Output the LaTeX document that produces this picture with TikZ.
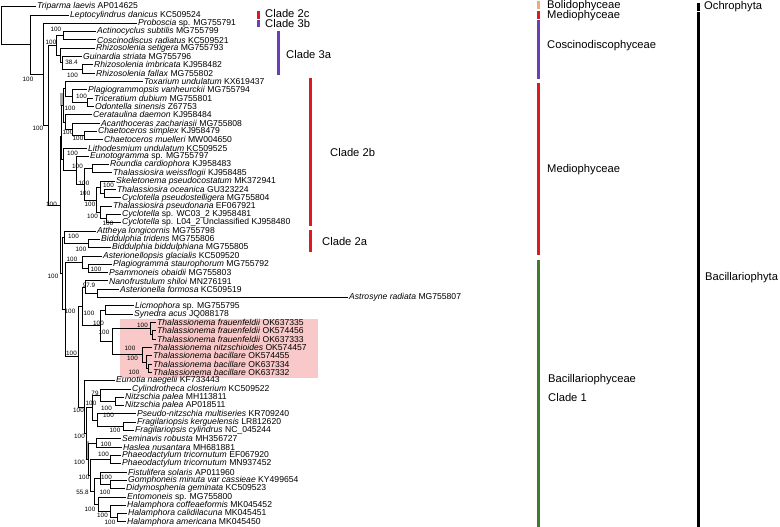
\documentclass[tikz,border=0pt]{standalone}
\usepackage{fontspec}
\setmainfont{Liberation Sans}
\definecolor{pinkhl}{HTML}{F9C9C9}
\definecolor{medred}{HTML}{DD1A22}
\definecolor{cospur}{HTML}{6A3FB5}
\definecolor{bacgrn}{HTML}{3E7B2C}
\definecolor{boltan}{HTML}{E8AE74}
\newcommand\mkleaf[4]{\node[leaf] (#1) at ({#2-1.5},{6.7+(#3-1)*8.31}) {#4};}
\newcommand\lk[2]{\draw[br] (#1) |- (#2.west);}
\newcommand\nk[2]{\draw[br] (#1) |- (#2);}
\newcommand\bsl[4]{\node[bs] (#1) at (#2,#3) {#4};}
\begin{document}
\begin{tikzpicture}[x=1pt,y=-1pt,
  br/.style={line width=0.9pt},
  leaf/.style={anchor=west,inner xsep=1.5pt,inner ysep=0pt,font=\fontsize{8.6}{9}\selectfont},
  bs/.style={inner sep=0pt,font=\fontsize{6.3}{7}\selectfont},
  bar/.style={line width=3pt},
  selbr/.style={line width=2.6pt,gray!70},
  cat/.style={anchor=west,inner sep=0pt,font=\fontsize{11.2}{13}\selectfont}]
\useasboundingbox (0,0) rectangle (780,527);
\fill[pinkhl] (120,318.5) rectangle (318,378);
% leaves
\mkleaf{l1}{37}{1}{\textit{Triparma laevis} AP014625}
\mkleaf{l2}{70}{2}{\textit{Leptocylindrus danicus} KC509524}
\mkleaf{l3}{138}{3}{\textit{Proboscia} sp. MG755791}
\mkleaf{l4}{97}{4}{\textit{Actinocyclus subtilis} MG755799}
\mkleaf{l5}{97}{5}{\textit{Coscinodiscus radiatus} KC509521}
\mkleaf{l6}{96}{6}{\textit{Rhizosolenia setigera} MG755793}
\mkleaf{l7}{83}{7}{\textit{Guinardia striata} MG755796}
\mkleaf{l8}{94}{8}{\textit{Rhizosolenia imbricata} KJ958482}
\mkleaf{l9}{96}{9}{\textit{Rhizosolenia fallax} MG755802}
\mkleaf{l10}{144}{10}{\textit{Toxarium undulatum} KX619437}
\mkleaf{l11}{88}{11}{\textit{Plagiogrammopsis vanheurckii} MG755794}
\mkleaf{l12}{94}{12}{\textit{Triceratium dubium} MG755801}
\mkleaf{l13}{95}{13}{\textit{Odontella sinensis} Z67753}
\mkleaf{l14}{93}{14}{\textit{Cerataulina daemon} KJ958484}
\mkleaf{l15}{101}{15}{\textit{Acanthoceras zachariasii} MG755808}
\mkleaf{l16}{98}{16}{\textit{Chaetoceros simplex} KJ958479}
\mkleaf{l17}{104}{17}{\textit{Chaetoceros muelleri} MW004650}
\mkleaf{l18}{88}{18}{\textit{Lithodesmium undulatum} KC509525}
\mkleaf{l19}{90}{19}{\textit{Eunotogramma} sp. MG755797}
\mkleaf{l20}{110}{20}{\textit{Roundia cardiophora} KJ958483}
\mkleaf{l21}{113}{21}{\textit{Thalassiosira weissflogii} KJ958485}
\mkleaf{l22}{116}{22}{\textit{Skeletonema pseudocostatum} MK372941}
\mkleaf{l23}{117}{23}{\textit{Thalassiosira oceanica} GU323224}
\mkleaf{l24}{122}{24}{\textit{Cyclotella pseudostelligera} MG755804}
\mkleaf{l25}{113}{25}{\textit{Thalassiosira pseudonana} EF067921}
\mkleaf{l26}{122}{26}{\textit{Cyclotella} sp. WC03\_2 KJ958481}
\mkleaf{l27}{122}{27}{\textit{Cyclotella} sp. L04\_2 Unclassified KJ958480}
\mkleaf{l28}{97}{28}{\textit{Attheya longicornis} MG755798}
\mkleaf{l29}{101}{29}{\textit{Biddulphia tridens} MG755806}
\mkleaf{l30}{112}{30}{\textit{Biddulphia biddulphiana} MG755805}
\mkleaf{l31}{103}{31}{\textit{Asterionellopsis glacialis} KC509520}
\mkleaf{l32}{113}{32}{\textit{Plagiogramma staurophorum} MG755792}
\mkleaf{l33}{109}{33}{\textit{Psammoneis obaidii} MG755803}
\mkleaf{l34}{109}{34}{\textit{Nanofrustulum shiloi} MN276191}
\mkleaf{l35}{120}{35}{\textit{Asterionella formosa} KC509519}
\mkleaf{l36}{349}{36}{\textit{Astrosyne radiata} MG755807}
\mkleaf{l37}{135}{37}{\textit{Licmophora} sp. MG755795}
\mkleaf{l38}{134}{38}{\textit{Synedra acus} JQ088178}
\mkleaf{l39}{157}{39}{\textit{Thalassionema frauenfeldii} OK637335}
\mkleaf{l40}{157}{40}{\textit{Thalassionema frauenfeldii} OK574456}
\mkleaf{l41}{157}{41}{\textit{Thalassionema frauenfeldii} OK637333}
\mkleaf{l42}{153}{42}{\textit{Thalassionema nitzschioides} OK574457}
\mkleaf{l43}{153}{43}{\textit{Thalassionema bacillare} OK574455}
\mkleaf{l44}{153}{44}{\textit{Thalassionema bacillare} OK637334}
\mkleaf{l45}{153}{45}{\textit{Thalassionema bacillare} OK637332}
\mkleaf{l46}{116}{46}{\textit{Eunotia naegelii} KF733443}
\mkleaf{l47}{132}{47}{\textit{Cylindrotheca closterium} KC509522}
\mkleaf{l48}{125}{48}{\textit{Nitzschia palea} MH113811}
\mkleaf{l49}{125}{49}{\textit{Nitzschia palea} AP018511}
\mkleaf{l50}{137}{50}{\textit{Pseudo-nitzschia multiseries} KR709240}
\mkleaf{l51}{137}{51}{\textit{Fragilariopsis kerguelensis} LR812620}
\mkleaf{l52}{135}{52}{\textit{Fragilariopsis cylindrus} NC\_045244}
\mkleaf{l53}{122}{53}{\textit{Seminavis robusta} MH356727}
\mkleaf{l54}{123}{54}{\textit{Haslea nusantara} MH681881}
\mkleaf{l55}{122}{55}{\textit{Phaeodactylum tricornutum} EF067920}
\mkleaf{l56}{122}{56}{\textit{Phaeodactylum tricornutum} MN937452}
\mkleaf{l57}{128}{57}{\textit{Fistulifera solaris} AP011960}
\mkleaf{l58}{128}{58}{\textit{Gomphoneis minuta var cassieae} KY499654}
\mkleaf{l59}{126}{59}{\textit{Didymosphenia geminata} KC509523}
\mkleaf{l60}{127}{60}{\textit{Entomoneis} sp. MG755800}
\mkleaf{l61}{127}{61}{\textit{Halamphora coffeaeformis} MK045452}
\mkleaf{l62}{128}{62}{\textit{Halamphora calidilacuna} MK045451}
\mkleaf{l63}{127}{63}{\textit{Halamphora americana} MK045450}
% internal nodes
\coordinate (R) at (1,25.7);
\coordinate (A) at (30.7,44.7);
\coordinate (B) at (43,74.3);
\coordinate (C) at (48,125.3);
\coordinate (D) at (56,45.6);
\coordinate (D1) at (63,35.8);
\coordinate (D2) at (60,55.5);
\coordinate (D3) at (62,62.8);
\coordinate (D4) at (82,69.0);
\coordinate (E) at (60,205);
\coordinate (F1) at (61.5,136.8);
\coordinate (FA) at (63.5,105.4);
\coordinate (T1) at (65.5,88.7);
\coordinate (P1) at (72,96);
\coordinate (P2) at (87,102.3);
\coordinate (CE) at (65.5,122);
\coordinate (Q1) at (72,129.3);
\coordinate (Q2) at (84,135.5);
\coordinate (F1b) at (63.5,159.1);
\coordinate (LR) at (76,170.3);
\coordinate (TH) at (84,184.4);
\coordinate (RW) at (92,168.7);
\coordinate (TS) at (96,200);
\coordinate (SK) at (100,187.5);
\coordinate (SK2) at (104,193.7);
\coordinate (CY0) at (100,212.4);
\coordinate (CY) at (106,218.6);
\coordinate (E2) at (62,273.4);
\coordinate (AB) at (64,237.3);
\coordinate (BB) at (88,243.5);
\coordinate (G) at (65,309.5);
\coordinate (G1) at (82,262.2);
\coordinate (PP) at (88,268.5);
\coordinate (G2) at (78,356.8);
\coordinate (AR) at (82,306.5);
\coordinate (NA) at (85,287.2);
\coordinate (AA) at (97,293.4);
\coordinate (K1) at (100,325.9);
\coordinate (LS) at (105,310);
\coordinate (TN) at (112,341.7);
\coordinate (TF) at (150,328.7);
\coordinate (TF2) at (152,334.9);
\coordinate (TB) at (142,354.7);
\coordinate (TB2) at (146,362);
\coordinate (TB3) at (148,368.2);
\coordinate (RA) at (84,407.1);
\coordinate (R1) at (86,433.5);
\coordinate (NZ) at (92,407.7);
\coordinate (CN) at (100,395.2);
\coordinate (NP) at (115,401.4);
\coordinate (PF) at (97,420.1);
\coordinate (FK) at (123,426.4);
\coordinate (R2) at (88,459.2);
\coordinate (SH) at (96,443);
\coordinate (R3) at (90,475.5);
\coordinate (PT) at (110,459.6);
\coordinate (R4) at (94,491.3);
\coordinate (FG) at (100,478.3);
\coordinate (GD) at (110,484.5);
\coordinate (R5) at (98,504.2);
\coordinate (HA) at (110,511.5);
\coordinate (HC) at (117,517.8);
% selected (grey) branch segments
\draw[selbr] (61.5,93) -- (61.5,106);
\draw[selbr] (88,441) -- (88,459);
% branches
\lk{R}{l1} \nk{R}{A}
\lk{A}{l2} \nk{A}{B}
\lk{B}{l3} \nk{B}{C}
\nk{C}{D} \nk{C}{E}
\nk{D}{D1} \nk{D}{D2}
\lk{D1}{l4} \lk{D1}{l5}
\lk{D2}{l6} \nk{D2}{D3}
\lk{D3}{l7} \nk{D3}{D4}
\lk{D4}{l8} \lk{D4}{l9}
\nk{E}{F1} \nk{E}{E2}
\nk{F1}{FA} \nk{F1}{F1b}
\nk{FA}{T1} \nk{FA}{CE}
\lk{T1}{l10} \nk{T1}{P1}
\lk{P1}{l11} \nk{P1}{P2}
\lk{P2}{l12} \lk{P2}{l13}
\lk{CE}{l14} \nk{CE}{Q1}
\lk{Q1}{l15} \nk{Q1}{Q2}
\lk{Q2}{l16} \lk{Q2}{l17}
\lk{F1b}{l18} \nk{F1b}{LR}
\lk{LR}{l19} \nk{LR}{TH}
\nk{TH}{RW} \nk{TH}{TS}
\lk{RW}{l20} \lk{RW}{l21}
\nk{TS}{SK} \nk{TS}{CY0}
\lk{SK}{l22} \nk{SK}{SK2}
\lk{SK2}{l23} \lk{SK2}{l24}
\lk{CY0}{l25} \nk{CY0}{CY}
\lk{CY}{l26} \lk{CY}{l27}
\nk{E2}{AB} \nk{E2}{G}
\lk{AB}{l28} \nk{AB}{BB}
\lk{BB}{l29} \lk{BB}{l30}
\nk{G}{G1} \nk{G}{G2}
\lk{G1}{l31} \nk{G1}{PP}
\lk{PP}{l32} \lk{PP}{l33}
\nk{G2}{AR} \nk{G2}{RA}
\nk{AR}{NA} \nk{AR}{K1}
\lk{NA}{l34} \nk{NA}{AA}
\lk{AA}{l35} \lk{AA}{l36}
\nk{K1}{LS} \nk{K1}{TN}
\lk{LS}{l37} \lk{LS}{l38}
\nk{TN}{TF} \nk{TN}{TB}
\lk{TF}{l39} \nk{TF}{TF2}
\lk{TF2}{l40} \lk{TF2}{l41}
\lk{TB}{l42} \nk{TB}{TB2}
\lk{TB2}{l43} \nk{TB2}{TB3}
\lk{TB3}{l44} \lk{TB3}{l45}
\lk{RA}{l46} \nk{RA}{R1}
\nk{R1}{NZ} \nk{R1}{R2}
\nk{NZ}{CN} \nk{NZ}{PF}
\lk{CN}{l47} \nk{CN}{NP}
\lk{NP}{l48} \lk{NP}{l49}
\lk{PF}{l50} \nk{PF}{FK}
\lk{FK}{l51} \lk{FK}{l52}
\nk{R2}{SH} \nk{R2}{R3}
\lk{SH}{l53} \lk{SH}{l54}
\nk{R3}{PT} \nk{R3}{R4}
\lk{PT}{l55} \lk{PT}{l56}
\nk{R4}{FG} \nk{R4}{R5}
\lk{FG}{l57} \nk{FG}{GD}
\lk{GD}{l58} \lk{GD}{l59}
\lk{R5}{l60} \nk{R5}{HA}
\lk{HA}{l61} \nk{HA}{HC}
\lk{HC}{l62} \lk{HC}{l63}
% support values
\bsl{s1}{28}{79}{100}
\bsl{s2}{56}{29}{100}
\bsl{s3}{51}{42}{100}
\bsl{s4}{71.5}{62}{38.4}
\bsl{s5}{72.5}{75}{100}
\bsl{s6}{38}{128.5}{100}
\bsl{s7}{81.5}{96}{100}
\bsl{s8}{70}{108}{100}
\bsl{s10}{68}{132}{100}
\bsl{s11}{78}{138}{100}
\bsl{s12}{72.5}{153}{100}
\bsl{s13}{77.5}{166}{100}
\bsl{s14}{84}{183}{100}
\bsl{s15}{108.5}{185}{100}
\bsl{s16}{85}{193}{100}
\bsl{s17}{90}{204}{100}
\bsl{s18}{92.5}{216}{100}
\bsl{s19}{108}{223}{100}
\bsl{s20}{51.5}{204}{100}
\bsl{s21}{73.5}{236}{100}
\bsl{s22}{81}{249}{100}
\bsl{s23}{72}{259}{100}
\bsl{s24}{96}{269}{100}
\bsl{s25}{53}{276}{100}
\bsl{s26}{89}{285}{97.9}
\bsl{s27}{70}{311}{100}
\bsl{s28}{89}{313}{100}
\bsl{s29}{98.5}{323}{100}
\bsl{s30}{104}{332}{100}
\bsl{s31}{142.5}{325}{100}
\bsl{s32}{130}{348}{100}
\bsl{s33}{132.5}{358}{100}
\bsl{s34}{134}{372}{100}
\bsl{s35}{71.5}{353}{100}
\bsl{s36}{95}{393}{79}
\bsl{s37}{91}{403}{100}
\bsl{s38}{106.5}{408}{100}
\bsl{s39}{78.5}{410}{100}
\bsl{s40}{108.5}{415}{100}
\bsl{s41}{115}{430}{100}
\bsl{s42}{79.5}{436}{100}
\bsl{s43}{106}{444}{100}
\bsl{s44}{79.5}{462}{100}
\bsl{s45}{103.5}{454}{100}
\bsl{s46}{84}{477}{100}
\bsl{s47}{106.5}{477}{100}
\bsl{s48}{82.5}{492}{55.8}
\bsl{s49}{105}{492}{100}
\bsl{s50}{90}{509}{100}
\bsl{s51}{102.5}{515}{100}
\bsl{s52}{110}{522}{100}
% clade bars
\draw[bar,medred] (258,11.5) -- (258,19);
\node[cat] (c2c) at (265,13.3) {Clade 2c};
\draw[bar,cospur] (258,20.5) -- (258,27.5);
\node[cat] (c3b) at (265,23.3) {Clade 3b};
\draw[bar,cospur] (278,31) -- (278,75);
\node[cat] (c3a) at (286,54) {Clade 3a};
\draw[bar,medred] (310,78) -- (310,226);
\node[cat] (c2b) at (330,152) {Clade 2b};
\draw[bar,medred] (310,230) -- (310,252);
\node[cat] (c2a) at (322,241) {Clade 2a};
% class bars
\draw[bar,boltan] (538,1.5) -- (538,9);
\node[cat] (kbol) at (547,5.7) {Bolidophyceae};
\draw[bar,medred] (538,11) -- (538,19);
\node[cat] (kmed1) at (547,15.7) {Mediophyceae};
\draw[bar,cospur] (538,20) -- (538,79);
\node[cat] (kcos) at (547,45.7) {Coscinodiscophyceae};
\draw[bar,medred] (538,83) -- (538,255);
\node[cat] (kmed2) at (547,170) {Mediophyceae};
\draw[bar,bacgrn] (538,260) -- (538,527);
\node[cat] (kbac) at (548,380) {Bacillariophyceae};
\node[cat] (kcl1) at (548,397) {Clade 1};
% phylum bars
\draw[bar,black] (698,3) -- (698,11);
\node[cat] (poch) at (704,6.3) {Ochrophyta};
\draw[bar,black] (698,12.5) -- (698,527);
\node[cat] (pbac) at (705,278) {Bacillariophyta};
\end{tikzpicture}
\end{document}
